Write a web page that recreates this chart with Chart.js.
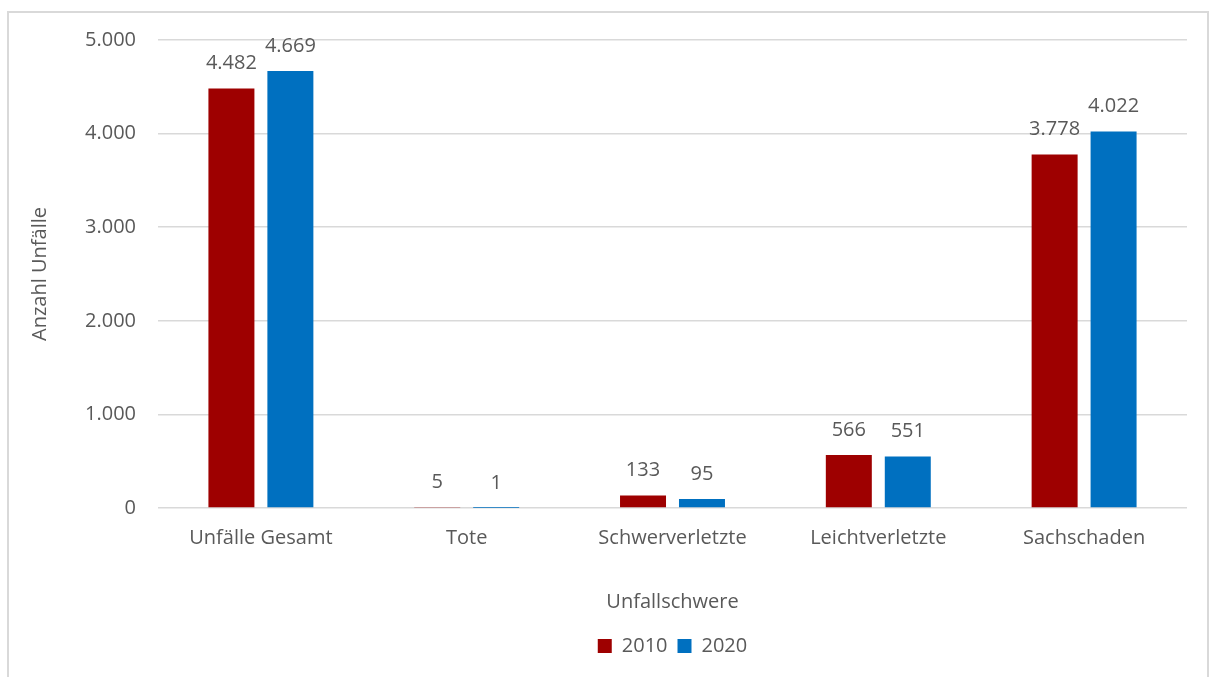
<!DOCTYPE html>
<html>
<head>
<meta charset="utf-8">
<script src="https://cdn.jsdelivr.net/npm/chart.js@4"></script>
<style>
    body { margin: 0; background: #fff; }
    #frame { position: absolute; left: 7px; top: 11px; width: 1198px; height: 700px; border: 2px solid #d9d9d9; }
    #wrap { position: absolute; left: 0; top: 0; width: 1212px; height: 677px; }
</style>
</head>
<body>
<div id="frame"></div>
<div id="wrap"><canvas id="graphic-unfaelle" width="1212" height="677"></canvas></div>
<script>
const categories = ['Unfälle Gesamt', 'Tote', 'Schwerverletzte', 'Leichtverletzte', 'Sachschaden'];
const werte2010 = [4482, 5, 133, 566, 3778];
const werte2020 = [4669, 1, 95, 551, 4022];

const fontFamily = '"Open Sans", "Noto Sans", sans-serif';
const textColor = '#595959';

function formatDE(value) {
    return String(value).replace(/\B(?=(\d{3})+(?!\d))/g, '.');
}

// simple data labels above each bar
const barLabels = {
    id: 'barLabels',
    afterDatasetsDraw(chart) {
        const ctx = chart.ctx;
        ctx.save();
        ctx.font = '20px ' + fontFamily;
        ctx.fillStyle = textColor;
        ctx.textAlign = 'center';
        ctx.textBaseline = 'middle';
        chart.data.datasets.forEach(function (ds, i) {
            chart.getDatasetMeta(i).data.forEach(function (bar, j) {
                ctx.fillText(formatDE(ds.data[j]), bar.x, bar.y - 25);
            });
        });
        ctx.restore();
    }
};

// legend centred under the plot area, like the x axis title
const centerLegend = {
    id: 'centerLegend',
    afterLayout(chart) {
        const lg = chart.legend;
        const shift = (chart.chartArea.left + chart.chartArea.right) / 2 - (lg.left + lg.right) / 2;
        lg.left += shift;
        lg.right += shift;
    }
};

new Chart(document.getElementById('graphic-unfaelle'), {
    type: 'bar',
    data: {
        labels: categories,
        datasets: [{
            label: '2010',
            data: werte2010,
            backgroundColor: '#9e0000',
            barPercentage: 0.78,
            categoryPercentage: 0.573
        }, {
            label: '2020',
            data: werte2020,
            backgroundColor: '#0070c0',
            barPercentage: 0.78,
            categoryPercentage: 0.573
        }]
    },
    options: {
        responsive: false,
        maintainAspectRatio: false,
        animation: false,
        layout: {
            padding: { left: 24, right: 25, top: 40, bottom: 11 }
        },
        scales: {
            y: {
                min: 0,
                max: 5000,
                ticks: {
                    stepSize: 1000,
                    color: textColor,
                    padding: 22,
                    font: { family: fontFamily, size: 20 },
                    callback: function (v) { return formatDE(v); }
                },
                grid: { color: '#d9d9d9', lineWidth: 1.5, drawTicks: false },
                border: { display: false },
                title: {
                    display: true,
                    text: 'Anzahl Unfälle',
                    color: textColor,
                    font: { family: fontFamily, size: 20 }
                },
                afterFit: function (scale) { scale.width = 134; }
            },
            x: {
                ticks: {
                    color: textColor,
                    padding: 18,
                    font: { family: fontFamily, size: 20 }
                },
                grid: { display: false, drawTicks: false },
                border: { display: false },
                title: {
                    display: true,
                    text: 'Unfallschwere',
                    color: textColor,
                    padding: { top: 22, bottom: 12 },
                    font: { family: fontFamily, size: 20 }
                }
            }
        },
        plugins: {
            legend: {
                position: 'bottom',
                labels: {
                    color: textColor,
                    boxWidth: 14,
                    boxHeight: 14,
                    padding: 10,
                    font: { family: fontFamily, size: 20 }
                }
            },
            tooltip: { enabled: false }
        }
    },
    plugins: [barLabels, centerLegend]
});
</script>
</body>
</html>
